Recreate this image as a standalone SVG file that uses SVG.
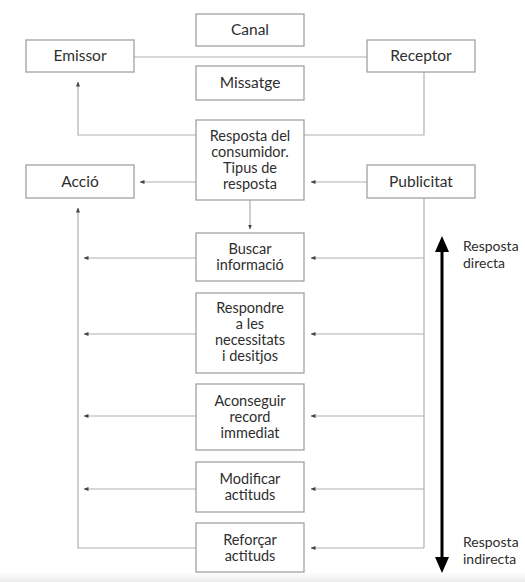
<svg xmlns="http://www.w3.org/2000/svg" width="525" height="582" viewBox="0 0 525 582">
<defs>
<style>
.box{fill:#fff;stroke:#9a9a9a;stroke-width:1.2}
.t{font-family:Lato,"Open Sans",sans-serif;font-size:15.5px;fill:#2e2e2e;text-anchor:middle}
.s{font-family:Lato,"Open Sans",sans-serif;font-size:14.5px;fill:#2e2e2e;text-anchor:middle}
.l{font-family:Lato,"Open Sans",sans-serif;font-size:14px;fill:#2e2e2e}
.c{fill:none;stroke:#b0b0b0;stroke-width:1.2}
</style>
<marker id="a" viewBox="0 0 10 10" refX="9" refY="5" markerWidth="5" markerHeight="5" orient="auto" markerUnits="userSpaceOnUse">
<path d="M0,1 L10,5 L0,9 z" fill="#444"/>
</marker>
<linearGradient id="g" x1="0" y1="0" x2="0" y2="1">
<stop offset="0" stop-color="#ffffff"/>
<stop offset="1" stop-color="#ececec"/>
</linearGradient>
</defs>
<rect width="525" height="582" fill="#fff"/>
<rect x="0" y="572" width="525" height="10" fill="url(#g)"/>
<g id="connectors">
<line class="c" x1="134" y1="57" x2="367" y2="57"/>
<polyline class="c" points="196,135 78,135 78,82" marker-end="url(#a)"/>
<polyline class="c" points="424,72 424,135 304,135"/>
<line class="c" x1="196" y1="182" x2="140" y2="182" marker-end="url(#a)"/>
<line class="c" x1="367" y1="182" x2="311" y2="182" marker-end="url(#a)"/>
<line class="c" x1="250" y1="200" x2="250" y2="229" marker-end="url(#a)"/>
<polyline class="c" points="196,548 78,548 78,208" marker-end="url(#a)"/>
<line class="c" x1="196" y1="258" x2="84" y2="258" marker-end="url(#a)"/>
<line class="c" x1="196" y1="334" x2="84" y2="334" marker-end="url(#a)"/>
<line class="c" x1="196" y1="416" x2="84" y2="416" marker-end="url(#a)"/>
<line class="c" x1="196" y1="489" x2="84" y2="489" marker-end="url(#a)"/>
<line class="c" x1="424" y1="198" x2="424" y2="548"/>
<line class="c" x1="424" y1="258" x2="311" y2="258" marker-end="url(#a)"/>
<line class="c" x1="424" y1="334" x2="311" y2="334" marker-end="url(#a)"/>
<line class="c" x1="424" y1="416" x2="311" y2="416" marker-end="url(#a)"/>
<line class="c" x1="424" y1="489" x2="311" y2="489" marker-end="url(#a)"/>
<line class="c" x1="424" y1="548" x2="311" y2="548" marker-end="url(#a)"/>
<line x1="442" y1="250" x2="442" y2="560" stroke="#000" stroke-width="3"/>
<path d="M435,252 L442,236 L449,252 z" fill="#000"/>
<path d="M435,557 L442,573 L449,557 z" fill="#000"/>
</g>
<g id="canal"><rect class="box" x="196" y="14" width="108" height="32"/><text class="t" x="250" y="35">Canal</text></g>
<g id="emissor"><rect class="box" x="26" y="40" width="108" height="32"/><text class="t" x="80" y="61">Emissor</text></g>
<g id="receptor"><rect class="box" x="367" y="40" width="108" height="32"/><text class="t" x="421" y="61">Receptor</text></g>
<g id="missatge"><rect class="box" x="196" y="66" width="108" height="34"/><text class="t" x="250" y="88">Missatge</text></g>
<g id="resposta"><rect class="box" x="196" y="120" width="108" height="80"/>
<text class="s" x="250" y="141">Resposta del</text><text class="s" x="250" y="157">consumidor.</text><text class="s" x="250" y="173">Tipus de</text><text class="s" x="250" y="189">resposta</text></g>
<g id="accio"><rect class="box" x="26" y="165" width="108" height="33"/><text class="t" x="80" y="187">Acció</text></g>
<g id="publicitat"><rect class="box" x="367" y="165" width="108" height="33"/><text class="t" x="421" y="187">Publicitat</text></g>
<g id="buscar"><rect class="box" x="196" y="233" width="108" height="48"/><text class="s" x="250" y="254">Buscar</text><text class="s" x="250" y="270">informació</text></g>
<g id="respondre"><rect class="box" x="196" y="293" width="108" height="80"/><text class="s" x="250" y="313">Respondre</text><text class="s" x="250" y="329">a les</text><text class="s" x="250" y="345">necessitats</text><text class="s" x="250" y="361">i desitjos</text></g>
<g id="aconseguir"><rect class="box" x="196" y="384" width="108" height="66"/><text class="s" x="250" y="406">Aconseguir</text><text class="s" x="250" y="422">record</text><text class="s" x="250" y="438">immediat</text></g>
<g id="modificar"><rect class="box" x="196" y="462" width="108" height="50"/><text class="s" x="250" y="484">Modificar</text><text class="s" x="250" y="500">actituds</text></g>
<g id="reforcar"><rect class="box" x="196" y="523" width="108" height="49"/><text class="s" x="250" y="545">Reforçar</text><text class="s" x="250" y="561">actituds</text></g>
<g id="label-directa"><text class="l" x="463" y="251">Resposta</text><text class="l" x="463" y="268">directa</text></g>
<g id="label-indirecta"><text class="l" x="463" y="547">Resposta</text><text class="l" x="463" y="564">indirecta</text></g>
</svg>
